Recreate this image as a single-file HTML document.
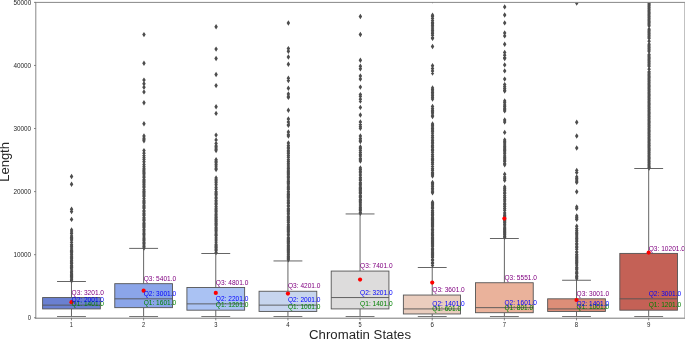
<!DOCTYPE html><html><head><meta charset="utf-8"><style>html,body{margin:0;padding:0;background:#fff;}svg{display:block;will-change:transform;}text{font-family:"Liberation Sans",sans-serif;}</style></head><body>
<svg width="685" height="339" viewBox="0 0 685 339">
<rect width="685" height="339" fill="#fff"/>
<defs><clipPath id="ax"><rect x="35.4" y="2.4" width="649.6" height="316"/></clipPath></defs>
<g clip-path="url(#ax)">
<path d="M71.57 173.80L73.32 176.50L71.57 179.20L69.82 176.50ZM71.57 181.50L73.32 184.20L71.57 186.90L69.82 184.20ZM71.57 206.60L73.32 209.30L71.57 212.00L69.82 209.30ZM71.57 208.90L73.32 211.60L71.57 214.30L69.82 211.60ZM71.57 216.70L73.32 219.40L71.57 222.10L69.82 219.40ZM71.57 227.30L73.32 230.00L71.57 232.70L69.82 230.00ZM71.57 229.20L73.32 231.90L71.57 234.60L69.82 231.90ZM71.57 230.91L73.32 233.61L71.57 236.31L69.82 233.61ZM71.57 233.19L73.32 235.89L71.57 238.59L69.82 235.89ZM71.57 234.71L73.32 237.41L71.57 240.11L69.82 237.41ZM71.57 236.04L73.32 238.74L71.57 241.44L69.82 238.74ZM71.57 237.37L73.32 240.07L71.57 242.77L69.82 240.07ZM71.57 239.46L73.32 242.16L71.57 244.86L69.82 242.16ZM71.57 242.12L73.32 244.82L71.57 247.52L69.82 244.82ZM71.57 243.45L73.32 246.15L71.57 248.85L69.82 246.15ZM71.57 245.35L73.32 248.05L71.57 250.75L69.82 248.05ZM71.57 247.30L73.32 250.00L71.57 252.70L69.82 250.00ZM71.57 247.30L73.32 250.00L71.57 252.70L69.82 250.00ZM71.57 248.30L73.32 251.00L71.57 253.70L69.82 251.00ZM71.57 249.10L73.32 251.80L71.57 254.50L69.82 251.80ZM71.57 250.00L73.32 252.70L71.57 255.40L69.82 252.70ZM71.57 251.60L73.32 254.30L71.57 257.00L69.82 254.30ZM71.57 253.20L73.32 255.90L71.57 258.60L69.82 255.90ZM71.57 254.10L73.32 256.80L71.57 259.50L69.82 256.80ZM71.57 255.10L73.32 257.80L71.57 260.50L69.82 257.80ZM71.57 256.00L73.32 258.70L71.57 261.40L69.82 258.70ZM71.57 257.60L73.32 260.30L71.57 263.00L69.82 260.30ZM71.57 258.40L73.32 261.10L71.57 263.80L69.82 261.10ZM71.57 259.30L73.32 262.00L71.57 264.70L69.82 262.00ZM71.57 260.30L73.32 263.00L71.57 265.70L69.82 263.00ZM71.57 261.10L73.32 263.80L71.57 266.50L69.82 263.80ZM71.57 262.70L73.32 265.40L71.57 268.10L69.82 265.40ZM71.57 263.50L73.32 266.20L71.57 268.90L69.82 266.20ZM71.57 264.50L73.32 267.20L71.57 269.90L69.82 267.20ZM71.57 265.30L73.32 268.00L71.57 270.70L69.82 268.00ZM71.57 266.30L73.32 269.00L71.57 271.70L69.82 269.00ZM71.57 267.40L73.32 270.10L71.57 272.80L69.82 270.10ZM71.57 269.00L73.32 271.70L71.57 274.40L69.82 271.70ZM71.57 270.00L73.32 272.70L71.57 275.40L69.82 272.70ZM71.57 270.90L73.32 273.60L71.57 276.30L69.82 273.60ZM71.57 272.00L73.32 274.70L71.57 277.40L69.82 274.70ZM71.57 273.00L73.32 275.70L71.57 278.40L69.82 275.70ZM71.57 273.90L73.32 276.60L71.57 279.30L69.82 276.60ZM71.57 274.90L73.32 277.60L71.57 280.30L69.82 277.60ZM71.57 276.20L73.32 278.90L71.57 281.60L69.82 278.90ZM71.57 277.10L73.32 279.80L71.57 282.50L69.82 279.80ZM71.57 278.00L73.32 280.70L71.57 283.40L69.82 280.70ZM143.97 31.90L145.72 34.60L143.97 37.30L142.22 34.60ZM143.97 60.50L145.72 63.20L143.97 65.90L142.22 63.20ZM143.97 77.40L145.72 80.10L143.97 82.80L142.22 80.10ZM143.97 81.00L145.72 83.70L143.97 86.40L142.22 83.70ZM143.97 84.50L145.72 87.20L143.97 89.90L142.22 87.20ZM143.97 89.20L145.72 91.90L143.97 94.60L142.22 91.90ZM143.97 100.10L145.72 102.80L143.97 105.50L142.22 102.80ZM143.97 121.10L145.72 123.80L143.97 126.50L142.22 123.80ZM143.97 133.30L145.72 136.00L143.97 138.70L142.22 136.00ZM143.97 135.54L145.72 138.24L143.97 140.94L142.22 138.24ZM143.97 136.98L145.72 139.68L143.97 142.38L142.22 139.68ZM143.97 138.10L145.72 140.80L143.97 143.50L142.22 140.80ZM143.97 147.90L145.72 150.60L143.97 153.30L142.22 150.60ZM143.97 150.56L145.72 153.26L143.97 155.96L142.22 153.26ZM143.97 152.84L145.72 155.54L143.97 158.24L142.22 155.54ZM143.97 154.93L145.72 157.63L143.97 160.33L142.22 157.63ZM143.97 156.83L145.72 159.53L143.97 162.23L142.22 159.53ZM143.97 159.11L145.72 161.81L143.97 164.51L142.22 161.81ZM143.97 161.77L145.72 164.47L143.97 167.17L142.22 164.47ZM143.97 164.05L145.72 166.75L143.97 169.45L142.22 166.75ZM143.97 165.95L145.72 168.65L143.97 171.35L142.22 168.65ZM143.97 167.30L145.72 170.00L143.97 172.70L142.22 170.00ZM143.97 167.30L145.72 170.00L143.97 172.70L142.22 170.00ZM143.97 168.30L145.72 171.00L143.97 173.70L142.22 171.00ZM143.97 169.30L145.72 172.00L143.97 174.70L142.22 172.00ZM143.97 170.20L145.72 172.90L143.97 175.60L142.22 172.90ZM143.97 171.30L145.72 174.00L143.97 176.70L142.22 174.00ZM143.97 173.40L145.72 176.10L143.97 178.80L142.22 176.10ZM143.97 174.70L145.72 177.40L143.97 180.10L142.22 177.40ZM143.97 176.80L145.72 179.50L143.97 182.20L142.22 179.50ZM143.97 177.90L145.72 180.60L143.97 183.30L142.22 180.60ZM143.97 178.80L145.72 181.50L143.97 184.20L142.22 181.50ZM143.97 179.70L145.72 182.40L143.97 185.10L142.22 182.40ZM143.97 181.30L145.72 184.00L143.97 186.70L142.22 184.00ZM143.97 182.30L145.72 185.00L143.97 187.70L142.22 185.00ZM143.97 183.60L145.72 186.30L143.97 189.00L142.22 186.30ZM143.97 184.60L145.72 187.30L143.97 190.00L142.22 187.30ZM143.97 186.70L145.72 189.40L143.97 192.10L142.22 189.40ZM143.97 188.30L145.72 191.00L143.97 193.70L142.22 191.00ZM143.97 189.10L145.72 191.80L143.97 194.50L142.22 191.80ZM143.97 190.00L145.72 192.70L143.97 195.40L142.22 192.70ZM143.97 191.30L145.72 194.00L143.97 196.70L142.22 194.00ZM143.97 192.60L145.72 195.30L143.97 198.00L142.22 195.30ZM143.97 193.90L145.72 196.60L143.97 199.30L142.22 196.60ZM143.97 196.00L145.72 198.70L143.97 201.40L142.22 198.70ZM143.97 198.10L145.72 200.80L143.97 203.50L142.22 200.80ZM143.97 199.00L145.72 201.70L143.97 204.40L142.22 201.70ZM143.97 199.90L145.72 202.60L143.97 205.30L142.22 202.60ZM143.97 201.00L145.72 203.70L143.97 206.40L142.22 203.70ZM143.97 203.10L145.72 205.80L143.97 208.50L142.22 205.80ZM143.97 204.00L145.72 206.70L143.97 209.40L142.22 206.70ZM143.97 204.80L145.72 207.50L143.97 210.20L142.22 207.50ZM143.97 205.90L145.72 208.60L143.97 211.30L142.22 208.60ZM143.97 208.00L145.72 210.70L143.97 213.40L142.22 210.70ZM143.97 209.10L145.72 211.80L143.97 214.50L142.22 211.80ZM143.97 210.70L145.72 213.40L143.97 216.10L142.22 213.40ZM143.97 212.00L145.72 214.70L143.97 217.40L142.22 214.70ZM143.97 212.80L145.72 215.50L143.97 218.20L142.22 215.50ZM143.97 214.90L145.72 217.60L143.97 220.30L142.22 217.60ZM143.97 216.20L145.72 218.90L143.97 221.60L142.22 218.90ZM143.97 217.20L145.72 219.90L143.97 222.60L142.22 219.90ZM143.97 218.10L145.72 220.80L143.97 223.50L142.22 220.80ZM143.97 220.20L145.72 222.90L143.97 225.60L142.22 222.90ZM143.97 221.00L145.72 223.70L143.97 226.40L142.22 223.70ZM143.97 222.00L145.72 224.70L143.97 227.40L142.22 224.70ZM143.97 223.10L145.72 225.80L143.97 228.50L142.22 225.80ZM143.97 224.10L145.72 226.80L143.97 229.50L142.22 226.80ZM143.97 225.10L145.72 227.80L143.97 230.50L142.22 227.80ZM143.97 226.70L145.72 229.40L143.97 232.10L142.22 229.40ZM143.97 228.30L145.72 231.00L143.97 233.70L142.22 231.00ZM143.97 230.40L145.72 233.10L143.97 235.80L142.22 233.10ZM143.97 231.30L145.72 234.00L143.97 236.70L142.22 234.00ZM143.97 232.30L145.72 235.00L143.97 237.70L142.22 235.00ZM143.97 234.40L145.72 237.10L143.97 239.80L142.22 237.10ZM143.97 236.00L145.72 238.70L143.97 241.40L142.22 238.70ZM143.97 237.10L145.72 239.80L143.97 242.50L142.22 239.80ZM143.97 238.10L145.72 240.80L143.97 243.50L142.22 240.80ZM143.97 239.70L145.72 242.40L143.97 245.10L142.22 242.40ZM143.97 240.80L145.72 243.50L143.97 246.20L142.22 243.50ZM143.97 242.40L145.72 245.10L143.97 247.80L142.22 245.10ZM143.97 243.70L145.72 246.40L143.97 249.10L142.22 246.40ZM143.97 245.30L145.72 248.00L143.97 250.70L142.22 248.00ZM216.08 24.00L217.83 26.70L216.08 29.40L214.33 26.70ZM216.08 46.40L217.83 49.10L216.08 51.80L214.33 49.10ZM216.08 55.80L217.83 58.50L216.08 61.20L214.33 58.50ZM216.08 71.80L217.83 74.50L216.08 77.20L214.33 74.50ZM216.08 82.90L217.83 85.60L216.08 88.30L214.33 85.60ZM216.08 104.10L217.83 106.80L216.08 109.50L214.33 106.80ZM216.08 110.70L217.83 113.40L216.08 116.10L214.33 113.40ZM216.08 132.40L217.83 135.10L216.08 137.80L214.33 135.10ZM216.08 137.20L217.83 139.90L216.08 142.60L214.33 139.90ZM216.08 140.80L217.83 143.50L216.08 146.20L214.33 143.50ZM216.08 142.42L217.83 145.12L216.08 147.82L214.33 145.12ZM216.08 143.68L217.83 146.38L216.08 149.08L214.33 146.38ZM216.08 145.30L217.83 148.00L216.08 150.70L214.33 148.00ZM216.08 146.92L217.83 149.62L216.08 152.32L214.33 149.62ZM216.08 147.80L217.83 150.50L216.08 153.20L214.33 150.50ZM216.08 157.00L217.83 159.70L216.08 162.40L214.33 159.70ZM216.08 158.44L217.83 161.14L216.08 163.84L214.33 161.14ZM216.08 159.56L217.83 162.26L216.08 164.96L214.33 162.26ZM216.08 161.48L217.83 164.18L216.08 166.88L214.33 164.18ZM216.08 163.24L217.83 165.94L216.08 168.64L214.33 165.94ZM216.08 165.48L217.83 168.18L216.08 170.88L214.33 168.18ZM216.08 166.92L217.83 169.62L216.08 172.32L214.33 169.62ZM216.08 175.30L217.83 178.00L216.08 180.70L214.33 178.00ZM216.08 177.10L217.83 179.80L216.08 182.50L214.33 179.80ZM216.08 178.36L217.83 181.06L216.08 183.76L214.33 181.06ZM216.08 179.98L217.83 182.68L216.08 185.38L214.33 182.68ZM216.08 182.14L217.83 184.84L216.08 187.54L214.33 184.84ZM216.08 184.66L217.83 187.36L216.08 190.06L214.33 187.36ZM216.08 186.46L217.83 189.16L216.08 191.86L214.33 189.16ZM216.08 188.98L217.83 191.68L216.08 194.38L214.33 191.68ZM216.08 189.30L217.83 192.00L216.08 194.70L214.33 192.00ZM216.08 190.60L217.83 193.30L216.08 196.00L214.33 193.30ZM216.08 191.60L217.83 194.30L216.08 197.00L214.33 194.30ZM216.08 192.40L217.83 195.10L216.08 197.80L214.33 195.10ZM216.08 194.50L217.83 197.20L216.08 199.90L214.33 197.20ZM216.08 196.10L217.83 198.80L216.08 201.50L214.33 198.80ZM216.08 197.70L217.83 200.40L216.08 203.10L214.33 200.40ZM216.08 199.30L217.83 202.00L216.08 204.70L214.33 202.00ZM216.08 200.90L217.83 203.60L216.08 206.30L214.33 203.60ZM216.08 201.80L217.83 204.50L216.08 207.20L214.33 204.50ZM216.08 203.90L217.83 206.60L216.08 209.30L214.33 206.60ZM216.08 205.50L217.83 208.20L216.08 210.90L214.33 208.20ZM216.08 206.30L217.83 209.00L216.08 211.70L214.33 209.00ZM216.08 207.30L217.83 210.00L216.08 212.70L214.33 210.00ZM216.08 208.20L217.83 210.90L216.08 213.60L214.33 210.90ZM216.08 209.20L217.83 211.90L216.08 214.60L214.33 211.90ZM216.08 211.30L217.83 214.00L216.08 216.70L214.33 214.00ZM216.08 212.30L217.83 215.00L216.08 217.70L214.33 215.00ZM216.08 213.20L217.83 215.90L216.08 218.60L214.33 215.90ZM216.08 214.50L217.83 217.20L216.08 219.90L214.33 217.20ZM216.08 215.30L217.83 218.00L216.08 220.70L214.33 218.00ZM216.08 216.20L217.83 218.90L216.08 221.60L214.33 218.90ZM216.08 217.00L217.83 219.70L216.08 222.40L214.33 219.70ZM216.08 218.00L217.83 220.70L216.08 223.40L214.33 220.70ZM216.08 218.90L217.83 221.60L216.08 224.30L214.33 221.60ZM216.08 220.20L217.83 222.90L216.08 225.60L214.33 222.90ZM216.08 221.00L217.83 223.70L216.08 226.40L214.33 223.70ZM216.08 221.90L217.83 224.60L216.08 227.30L214.33 224.60ZM216.08 222.90L217.83 225.60L216.08 228.30L214.33 225.60ZM216.08 224.50L217.83 227.20L216.08 229.90L214.33 227.20ZM216.08 225.50L217.83 228.20L216.08 230.90L214.33 228.20ZM216.08 226.60L217.83 229.30L216.08 232.00L214.33 229.30ZM216.08 227.90L217.83 230.60L216.08 233.30L214.33 230.60ZM216.08 229.20L217.83 231.90L216.08 234.60L214.33 231.90ZM216.08 231.30L217.83 234.00L216.08 236.70L214.33 234.00ZM216.08 232.20L217.83 234.90L216.08 237.60L214.33 234.90ZM216.08 233.10L217.83 235.80L216.08 238.50L214.33 235.80ZM216.08 235.20L217.83 237.90L216.08 240.60L214.33 237.90ZM216.08 237.30L217.83 240.00L216.08 242.70L214.33 240.00ZM216.08 239.40L217.83 242.10L216.08 244.80L214.33 242.10ZM216.08 241.50L217.83 244.20L216.08 246.90L214.33 244.20ZM216.08 242.60L217.83 245.30L216.08 248.00L214.33 245.30ZM216.08 243.50L217.83 246.20L216.08 248.90L214.33 246.20ZM216.08 244.50L217.83 247.20L216.08 249.90L214.33 247.20ZM216.08 245.40L217.83 248.10L216.08 250.80L214.33 248.10ZM216.08 246.70L217.83 249.40L216.08 252.10L214.33 249.40ZM216.08 247.80L217.83 250.50L216.08 253.20L214.33 250.50ZM216.08 249.90L217.83 252.60L216.08 255.30L214.33 252.60ZM288.38 20.30L290.12 23.00L288.38 25.70L286.62 23.00ZM288.38 45.90L290.12 48.60L288.38 51.30L286.62 48.60ZM288.38 48.60L290.12 51.30L288.38 54.00L286.62 51.30ZM288.38 54.30L290.12 57.00L288.38 59.70L286.62 57.00ZM288.38 61.50L290.12 64.20L288.38 66.90L286.62 64.20ZM288.38 75.50L290.12 78.20L288.38 80.90L286.62 78.20ZM288.38 77.80L290.12 80.50L288.38 83.20L286.62 80.50ZM288.38 85.50L290.12 88.20L288.38 90.90L286.62 88.20ZM288.38 107.60L290.12 110.30L288.38 113.00L286.62 110.30ZM288.38 91.20L290.12 93.90L288.38 96.60L286.62 93.90ZM288.38 93.65L290.12 96.35L288.38 99.05L286.62 96.35ZM288.38 94.70L290.12 97.40L288.38 100.10L286.62 97.40ZM288.38 116.30L290.12 119.00L288.38 121.70L286.62 119.00ZM288.38 119.24L290.12 121.94L288.38 124.64L286.62 121.94ZM288.38 121.34L290.12 124.04L288.38 126.74L286.62 124.04ZM288.38 122.60L290.12 125.30L288.38 128.00L286.62 125.30ZM288.38 129.30L290.12 132.00L288.38 134.70L286.62 132.00ZM288.38 132.10L290.12 134.80L288.38 137.50L286.62 134.80ZM288.38 133.30L290.12 136.00L288.38 138.70L286.62 136.00ZM288.38 140.30L290.12 143.00L288.38 145.70L286.62 143.00ZM288.38 142.82L290.12 145.52L288.38 148.22L286.62 145.52ZM288.38 144.62L290.12 147.32L288.38 150.02L286.62 147.32ZM288.38 146.06L290.12 148.76L288.38 151.46L286.62 148.76ZM288.38 148.04L290.12 150.74L288.38 153.44L286.62 150.74ZM288.38 149.30L290.12 152.00L288.38 154.70L286.62 152.00ZM288.38 150.74L290.12 153.44L288.38 156.14L286.62 153.44ZM288.38 152.72L290.12 155.42L288.38 158.12L286.62 155.42ZM288.38 154.52L290.12 157.22L288.38 159.92L286.62 157.22ZM288.38 157.04L290.12 159.74L288.38 162.44L286.62 159.74ZM288.38 158.84L290.12 161.54L288.38 164.24L286.62 161.54ZM288.38 160.46L290.12 163.16L288.38 165.86L286.62 163.16ZM288.38 162.26L290.12 164.96L288.38 167.66L286.62 164.96ZM288.38 164.24L290.12 166.94L288.38 169.64L286.62 166.94ZM288.38 165.86L290.12 168.56L288.38 171.26L286.62 168.56ZM288.38 167.30L290.12 170.00L288.38 172.70L286.62 170.00ZM288.38 167.30L290.12 170.00L288.38 172.70L286.62 170.00ZM288.38 168.60L290.12 171.30L288.38 174.00L286.62 171.30ZM288.38 169.60L290.12 172.30L288.38 175.00L286.62 172.30ZM288.38 170.60L290.12 173.30L288.38 176.00L286.62 173.30ZM288.38 171.60L290.12 174.30L288.38 177.00L286.62 174.30ZM288.38 173.20L290.12 175.90L288.38 178.60L286.62 175.90ZM288.38 174.20L290.12 176.90L288.38 179.60L286.62 176.90ZM288.38 175.20L290.12 177.90L288.38 180.60L286.62 177.90ZM288.38 177.30L290.12 180.00L288.38 182.70L286.62 180.00ZM288.38 178.60L290.12 181.30L288.38 184.00L286.62 181.30ZM288.38 179.40L290.12 182.10L288.38 184.80L286.62 182.10ZM288.38 180.20L290.12 182.90L288.38 185.60L286.62 182.90ZM288.38 181.30L290.12 184.00L288.38 186.70L286.62 184.00ZM288.38 183.40L290.12 186.10L288.38 188.80L286.62 186.10ZM288.38 184.50L290.12 187.20L288.38 189.90L286.62 187.20ZM288.38 185.50L290.12 188.20L288.38 190.90L286.62 188.20ZM288.38 186.80L290.12 189.50L288.38 192.20L286.62 189.50ZM288.38 188.90L290.12 191.60L288.38 194.30L286.62 191.60ZM288.38 190.20L290.12 192.90L288.38 195.60L286.62 192.90ZM288.38 191.50L290.12 194.20L288.38 196.90L286.62 194.20ZM288.38 192.40L290.12 195.10L288.38 197.80L286.62 195.10ZM288.38 193.40L290.12 196.10L288.38 198.80L286.62 196.10ZM288.38 194.30L290.12 197.00L288.38 199.70L286.62 197.00ZM288.38 195.30L290.12 198.00L288.38 200.70L286.62 198.00ZM288.38 197.40L290.12 200.10L288.38 202.80L286.62 200.10ZM288.38 198.40L290.12 201.10L288.38 203.80L286.62 201.10ZM288.38 199.70L290.12 202.40L288.38 205.10L286.62 202.40ZM288.38 200.70L290.12 203.40L288.38 206.10L286.62 203.40ZM288.38 202.80L290.12 205.50L288.38 208.20L286.62 205.50ZM288.38 203.60L290.12 206.30L288.38 209.00L286.62 206.30ZM288.38 205.70L290.12 208.40L288.38 211.10L286.62 208.40ZM288.38 207.00L290.12 209.70L288.38 212.40L286.62 209.70ZM288.38 207.90L290.12 210.60L288.38 213.30L286.62 210.60ZM288.38 208.80L290.12 211.50L288.38 214.20L286.62 211.50ZM288.38 210.40L290.12 213.10L288.38 215.80L286.62 213.10ZM288.38 211.40L290.12 214.10L288.38 216.80L286.62 214.10ZM288.38 213.50L290.12 216.20L288.38 218.90L286.62 216.20ZM288.38 214.50L290.12 217.20L288.38 219.90L286.62 217.20ZM288.38 216.10L290.12 218.80L288.38 221.50L286.62 218.80ZM288.38 217.40L290.12 220.10L288.38 222.80L286.62 220.10ZM288.38 218.30L290.12 221.00L288.38 223.70L286.62 221.00ZM288.38 219.90L290.12 222.60L288.38 225.30L286.62 222.60ZM288.38 222.00L290.12 224.70L288.38 227.40L286.62 224.70ZM288.38 223.60L290.12 226.30L288.38 229.00L286.62 226.30ZM288.38 224.50L290.12 227.20L288.38 229.90L286.62 227.20ZM288.38 225.50L290.12 228.20L288.38 230.90L286.62 228.20ZM288.38 226.50L290.12 229.20L288.38 231.90L286.62 229.20ZM288.38 227.50L290.12 230.20L288.38 232.90L286.62 230.20ZM288.38 228.30L290.12 231.00L288.38 233.70L286.62 231.00ZM288.38 229.30L290.12 232.00L288.38 234.70L286.62 232.00ZM288.38 231.40L290.12 234.10L288.38 236.80L286.62 234.10ZM288.38 232.40L290.12 235.10L288.38 237.80L286.62 235.10ZM288.38 234.50L290.12 237.20L288.38 239.90L286.62 237.20ZM288.38 235.80L290.12 238.50L288.38 241.20L286.62 238.50ZM288.38 236.80L290.12 239.50L288.38 242.20L286.62 239.50ZM288.38 237.80L290.12 240.50L288.38 243.20L286.62 240.50ZM288.38 238.60L290.12 241.30L288.38 244.00L286.62 241.30ZM288.38 239.40L290.12 242.10L288.38 244.80L286.62 242.10ZM288.38 240.30L290.12 243.00L288.38 245.70L286.62 243.00ZM288.38 241.30L290.12 244.00L288.38 246.70L286.62 244.00ZM288.38 242.90L290.12 245.60L288.38 248.30L286.62 245.60ZM288.38 243.90L290.12 246.60L288.38 249.30L286.62 246.60ZM288.38 244.90L290.12 247.60L288.38 250.30L286.62 247.60ZM288.38 245.70L290.12 248.40L288.38 251.10L286.62 248.40ZM288.38 246.80L290.12 249.50L288.38 252.20L286.62 249.50ZM288.38 247.80L290.12 250.50L288.38 253.20L286.62 250.50ZM288.38 248.90L290.12 251.60L288.38 254.30L286.62 251.60ZM288.38 249.90L290.12 252.60L288.38 255.30L286.62 252.60ZM288.38 251.20L290.12 253.90L288.38 256.60L286.62 253.90ZM288.38 252.30L290.12 255.00L288.38 257.70L286.62 255.00ZM288.38 253.90L290.12 256.60L288.38 259.30L286.62 256.60ZM288.38 254.90L290.12 257.60L288.38 260.30L286.62 257.60ZM288.38 255.70L290.12 258.40L288.38 261.10L286.62 258.40ZM288.38 257.00L290.12 259.70L288.38 262.40L286.62 259.70ZM360.38 13.80L362.12 16.50L360.38 19.20L358.62 16.50ZM360.38 31.80L362.12 34.50L360.38 37.20L358.62 34.50ZM360.38 57.50L362.12 60.20L360.38 62.90L358.62 60.20ZM360.38 63.60L362.12 66.30L360.38 69.00L358.62 66.30ZM360.38 66.00L362.12 68.70L360.38 71.40L358.62 68.70ZM360.38 73.30L362.12 76.00L360.38 78.70L358.62 76.00ZM360.38 76.30L362.12 79.00L360.38 81.70L358.62 79.00ZM360.38 84.40L362.12 87.10L360.38 89.80L358.62 87.10ZM360.38 104.70L362.12 107.40L360.38 110.10L358.62 107.40ZM360.38 112.30L362.12 115.00L360.38 117.70L358.62 115.00ZM360.38 91.90L362.12 94.60L360.38 97.30L358.62 94.60ZM360.38 93.58L362.12 96.28L360.38 98.98L358.62 96.28ZM360.38 96.52L362.12 99.22L360.38 101.92L358.62 99.22ZM360.38 98.30L362.12 101.00L360.38 103.70L358.62 101.00ZM360.38 119.30L362.12 122.00L360.38 124.70L358.62 122.00ZM360.38 121.82L362.12 124.52L360.38 127.22L358.62 124.52ZM360.38 124.13L362.12 126.83L360.38 129.53L358.62 126.83ZM360.38 125.60L362.12 128.30L360.38 131.00L358.62 128.30ZM360.38 133.30L362.12 136.00L360.38 138.70L358.62 136.00ZM360.38 135.82L362.12 138.52L360.38 141.22L358.62 138.52ZM360.38 137.44L362.12 140.14L360.38 142.84L358.62 140.14ZM360.38 138.80L362.12 141.50L360.38 144.20L358.62 141.50ZM360.38 144.30L362.12 147.00L360.38 149.70L358.62 147.00ZM360.38 145.56L362.12 148.26L360.38 150.96L358.62 148.26ZM360.38 147.54L362.12 150.24L360.38 152.94L358.62 150.24ZM360.38 149.70L362.12 152.40L360.38 155.10L358.62 152.40ZM360.38 151.68L362.12 154.38L360.38 157.08L358.62 154.38ZM360.38 153.30L362.12 156.00L360.38 158.70L358.62 156.00ZM360.38 155.82L362.12 158.52L360.38 161.22L358.62 158.52ZM360.38 157.08L362.12 159.78L360.38 162.48L358.62 159.78ZM360.38 158.30L362.12 161.00L360.38 163.70L358.62 161.00ZM360.38 165.30L362.12 168.00L360.38 170.70L358.62 168.00ZM360.38 166.92L362.12 169.62L360.38 172.32L358.62 169.62ZM360.38 168.54L362.12 171.24L360.38 173.94L358.62 171.24ZM360.38 170.16L362.12 172.86L360.38 175.56L358.62 172.86ZM360.38 172.32L362.12 175.02L360.38 177.72L358.62 175.02ZM360.38 174.84L362.12 177.54L360.38 180.24L358.62 177.54ZM360.38 176.28L362.12 178.98L360.38 181.68L358.62 178.98ZM360.38 177.54L362.12 180.24L360.38 182.94L358.62 180.24ZM360.38 180.06L362.12 182.76L360.38 185.46L358.62 182.76ZM360.38 181.32L362.12 184.02L360.38 186.72L358.62 184.02ZM360.38 182.30L362.12 185.00L360.38 187.70L358.62 185.00ZM360.38 182.30L362.12 185.00L360.38 187.70L358.62 185.00ZM360.38 184.40L362.12 187.10L360.38 189.80L358.62 187.10ZM360.38 185.30L362.12 188.00L360.38 190.70L358.62 188.00ZM360.38 186.10L362.12 188.80L360.38 191.50L358.62 188.80ZM360.38 187.10L362.12 189.80L360.38 192.50L358.62 189.80ZM360.38 188.10L362.12 190.80L360.38 193.50L358.62 190.80ZM360.38 189.20L362.12 191.90L360.38 194.60L358.62 191.90ZM360.38 190.00L362.12 192.70L360.38 195.40L358.62 192.70ZM360.38 190.90L362.12 193.60L360.38 196.30L358.62 193.60ZM360.38 193.00L362.12 195.70L360.38 198.40L358.62 195.70ZM360.38 193.80L362.12 196.50L360.38 199.20L358.62 196.50ZM360.38 194.70L362.12 197.40L360.38 200.10L358.62 197.40ZM360.38 196.80L362.12 199.50L360.38 202.20L358.62 199.50ZM360.38 198.10L362.12 200.80L360.38 203.50L358.62 200.80ZM360.38 199.10L362.12 201.80L360.38 204.50L358.62 201.80ZM360.38 200.20L362.12 202.90L360.38 205.60L358.62 202.90ZM360.38 202.30L362.12 205.00L360.38 207.70L358.62 205.00ZM360.38 204.40L362.12 207.10L360.38 209.80L358.62 207.10ZM360.38 205.40L362.12 208.10L360.38 210.80L358.62 208.10ZM360.38 206.50L362.12 209.20L360.38 211.90L358.62 209.20ZM360.38 207.50L362.12 210.20L360.38 212.90L358.62 210.20ZM360.38 209.60L362.12 212.30L360.38 215.00L358.62 212.30ZM360.38 210.60L362.12 213.30L360.38 216.00L358.62 213.30ZM432.53 -1.90L434.28 0.80L432.53 3.50L430.78 0.80ZM432.53 43.80L434.28 46.50L432.53 49.20L430.78 46.50ZM432.53 63.00L434.28 65.70L432.53 68.40L430.78 65.70ZM432.53 65.80L434.28 68.50L432.53 71.20L430.78 68.50ZM432.53 68.30L434.28 71.00L432.53 73.70L430.78 71.00ZM432.53 70.40L434.28 73.10L432.53 75.80L430.78 73.10ZM432.53 12.50L434.28 15.20L432.53 17.90L430.78 15.20ZM432.53 13.76L434.28 16.46L432.53 19.16L430.78 16.46ZM432.53 15.92L434.28 18.62L432.53 21.32L430.78 18.62ZM432.53 18.08L434.28 20.78L432.53 23.48L430.78 20.78ZM432.53 19.88L434.28 22.58L432.53 25.28L430.78 22.58ZM432.53 21.14L434.28 23.84L432.53 26.54L430.78 23.84ZM432.53 22.58L434.28 25.28L432.53 27.98L430.78 25.28ZM432.53 24.20L434.28 26.90L432.53 29.60L430.78 26.90ZM432.53 26.36L434.28 29.06L432.53 31.76L430.78 29.06ZM432.53 27.62L434.28 30.32L432.53 33.02L430.78 30.32ZM432.53 29.24L434.28 31.94L432.53 34.64L430.78 31.94ZM432.53 30.68L434.28 33.38L432.53 36.08L430.78 33.38ZM432.53 32.48L434.28 35.18L432.53 37.88L430.78 35.18ZM432.53 34.46L434.28 37.16L432.53 39.86L430.78 37.16ZM432.53 35.72L434.28 38.42L432.53 41.12L430.78 38.42ZM432.53 85.30L434.28 88.00L432.53 90.70L430.78 88.00ZM432.53 86.92L434.28 89.62L432.53 92.32L430.78 89.62ZM432.53 88.36L434.28 91.06L432.53 93.76L430.78 91.06ZM432.53 89.80L434.28 92.50L432.53 95.20L430.78 92.50ZM432.53 91.24L434.28 93.94L432.53 96.64L430.78 93.94ZM432.53 93.04L434.28 95.74L432.53 98.44L430.78 95.74ZM432.53 94.66L434.28 97.36L432.53 100.06L430.78 97.36ZM432.53 96.30L434.28 99.00L432.53 101.70L430.78 99.00ZM432.53 103.80L434.28 106.50L432.53 109.20L430.78 106.50ZM432.53 105.96L434.28 108.66L432.53 111.36L430.78 108.66ZM432.53 107.58L434.28 110.28L432.53 112.98L430.78 110.28ZM432.53 109.02L434.28 111.72L432.53 114.42L430.78 111.72ZM432.53 110.28L434.28 112.98L432.53 115.68L430.78 112.98ZM432.53 112.44L434.28 115.14L432.53 117.84L430.78 115.14ZM432.53 113.90L434.28 116.60L432.53 119.30L430.78 116.60ZM432.53 121.30L434.28 124.00L432.53 126.70L430.78 124.00ZM432.53 122.58L434.28 125.28L432.53 127.98L430.78 125.28ZM432.53 124.34L434.28 127.04L432.53 129.74L430.78 127.04ZM432.53 125.78L434.28 128.48L432.53 131.18L430.78 128.48ZM432.53 127.22L434.28 129.92L432.53 132.62L430.78 129.92ZM432.53 128.50L434.28 131.20L432.53 133.90L430.78 131.20ZM432.53 130.42L434.28 133.12L432.53 135.82L430.78 133.12ZM432.53 132.66L434.28 135.36L432.53 138.06L430.78 135.36ZM432.53 134.58L434.28 137.28L432.53 139.98L430.78 137.28ZM432.53 136.18L434.28 138.88L432.53 141.58L430.78 138.88ZM432.53 138.10L434.28 140.80L432.53 143.50L430.78 140.80ZM432.53 139.54L434.28 142.24L432.53 144.94L430.78 142.24ZM432.53 141.14L434.28 143.84L432.53 146.54L430.78 143.84ZM432.53 142.74L434.28 145.44L432.53 148.14L430.78 145.44ZM432.53 143.86L434.28 146.56L432.53 149.26L430.78 146.56ZM432.53 145.14L434.28 147.84L432.53 150.54L430.78 147.84ZM432.53 146.74L434.28 149.44L432.53 152.14L430.78 149.44ZM432.53 147.86L434.28 150.56L432.53 153.26L430.78 150.56ZM432.53 149.46L434.28 152.16L432.53 154.86L430.78 152.16ZM432.53 151.70L434.28 154.40L432.53 157.10L430.78 154.40ZM432.53 153.62L434.28 156.32L432.53 159.02L430.78 156.32ZM432.53 155.54L434.28 158.24L432.53 160.94L430.78 158.24ZM432.53 156.82L434.28 159.52L432.53 162.22L430.78 159.52ZM432.53 157.94L434.28 160.64L432.53 163.34L430.78 160.64ZM432.53 159.86L434.28 162.56L432.53 165.26L430.78 162.56ZM432.53 161.46L434.28 164.16L432.53 166.86L430.78 164.16ZM432.53 163.70L434.28 166.40L432.53 169.10L430.78 166.40ZM432.53 165.94L434.28 168.64L432.53 171.34L430.78 168.64ZM432.53 167.54L434.28 170.24L432.53 172.94L430.78 170.24ZM432.53 169.78L434.28 172.48L432.53 175.18L430.78 172.48ZM432.53 170.90L434.28 173.60L432.53 176.30L430.78 173.60ZM432.53 172.02L434.28 174.72L432.53 177.42L430.78 174.72ZM432.53 173.30L434.28 176.00L432.53 178.70L430.78 176.00ZM432.53 179.80L434.28 182.50L432.53 185.20L430.78 182.50ZM432.53 181.06L434.28 183.76L432.53 186.46L430.78 183.76ZM432.53 182.32L434.28 185.02L432.53 187.72L430.78 185.02ZM432.53 184.12L434.28 186.82L432.53 189.52L430.78 186.82ZM432.53 185.92L434.28 188.62L432.53 191.32L430.78 188.62ZM432.53 187.18L434.28 189.88L432.53 192.58L430.78 189.88ZM432.53 189.16L434.28 191.86L432.53 194.56L430.78 191.86ZM432.53 190.00L434.28 192.70L432.53 195.40L430.78 192.70ZM432.53 199.50L434.28 202.20L432.53 204.90L430.78 202.20ZM432.53 200.50L434.28 203.20L432.53 205.90L430.78 203.20ZM432.53 202.10L434.28 204.80L432.53 207.50L430.78 204.80ZM432.53 203.20L434.28 205.90L432.53 208.60L430.78 205.90ZM432.53 204.80L434.28 207.50L432.53 210.20L430.78 207.50ZM432.53 205.80L434.28 208.50L432.53 211.20L430.78 208.50ZM432.53 207.90L434.28 210.60L432.53 213.30L430.78 210.60ZM432.53 209.20L434.28 211.90L432.53 214.60L430.78 211.90ZM432.53 210.10L434.28 212.80L432.53 215.50L430.78 212.80ZM432.53 211.20L434.28 213.90L432.53 216.60L430.78 213.90ZM432.53 212.00L434.28 214.70L432.53 217.40L430.78 214.70ZM432.53 213.00L434.28 215.70L432.53 218.40L430.78 215.70ZM432.53 214.60L434.28 217.30L432.53 220.00L430.78 217.30ZM432.53 215.50L434.28 218.20L432.53 220.90L430.78 218.20ZM432.53 216.60L434.28 219.30L432.53 222.00L430.78 219.30ZM432.53 217.40L434.28 220.10L432.53 222.80L430.78 220.10ZM432.53 218.30L434.28 221.00L432.53 223.70L430.78 221.00ZM432.53 219.40L434.28 222.10L432.53 224.80L430.78 222.10ZM432.53 220.30L434.28 223.00L432.53 225.70L430.78 223.00ZM432.53 221.30L434.28 224.00L432.53 226.70L430.78 224.00ZM432.53 222.20L434.28 224.90L432.53 227.60L430.78 224.90ZM432.53 223.30L434.28 226.00L432.53 228.70L430.78 226.00ZM432.53 224.20L434.28 226.90L432.53 229.60L430.78 226.90ZM432.53 226.30L434.28 229.00L432.53 231.70L430.78 229.00ZM432.53 227.10L434.28 229.80L432.53 232.50L430.78 229.80ZM432.53 228.40L434.28 231.10L432.53 233.80L430.78 231.10ZM432.53 230.00L434.28 232.70L432.53 235.40L430.78 232.70ZM432.53 231.10L434.28 233.80L432.53 236.50L430.78 233.80ZM432.53 232.10L434.28 234.80L432.53 237.50L430.78 234.80ZM432.53 232.90L434.28 235.60L432.53 238.30L430.78 235.60ZM432.53 233.90L434.28 236.60L432.53 239.30L430.78 236.60ZM432.53 234.80L434.28 237.50L432.53 240.20L430.78 237.50ZM432.53 235.80L434.28 238.50L432.53 241.20L430.78 238.50ZM432.53 236.90L434.28 239.60L432.53 242.30L430.78 239.60ZM432.53 237.70L434.28 240.40L432.53 243.10L430.78 240.40ZM432.53 238.70L434.28 241.40L432.53 244.10L430.78 241.40ZM432.53 239.70L434.28 242.40L432.53 245.10L430.78 242.40ZM432.53 240.80L434.28 243.50L432.53 246.20L430.78 243.50ZM432.53 241.90L434.28 244.60L432.53 247.30L430.78 244.60ZM432.53 242.90L434.28 245.60L432.53 248.30L430.78 245.60ZM432.53 244.00L434.28 246.70L432.53 249.40L430.78 246.70ZM432.53 246.10L434.28 248.80L432.53 251.50L430.78 248.80ZM432.53 247.10L434.28 249.80L432.53 252.50L430.78 249.80ZM432.53 248.20L434.28 250.90L432.53 253.60L430.78 250.90ZM432.53 249.50L434.28 252.20L432.53 254.90L430.78 252.20ZM432.53 250.30L434.28 253.00L432.53 255.70L430.78 253.00ZM432.53 251.40L434.28 254.10L432.53 256.80L430.78 254.10ZM432.53 252.20L434.28 254.90L432.53 257.60L430.78 254.90ZM432.53 253.00L434.28 255.70L432.53 258.40L430.78 255.70ZM432.53 253.80L434.28 256.50L432.53 259.20L430.78 256.50ZM432.53 254.80L434.28 257.50L432.53 260.20L430.78 257.50ZM432.53 256.90L434.28 259.60L432.53 262.30L430.78 259.60ZM432.53 257.90L434.28 260.60L432.53 263.30L430.78 260.60ZM432.53 260.00L434.28 262.70L432.53 265.40L430.78 262.70ZM432.53 260.90L434.28 263.60L432.53 266.30L430.78 263.60ZM432.53 262.50L434.28 265.20L432.53 267.90L430.78 265.20ZM504.68 4.20L506.43 6.90L504.68 9.60L502.93 6.90ZM504.68 12.30L506.43 15.00L504.68 17.70L502.93 15.00ZM504.68 20.20L506.43 22.90L504.68 25.60L502.93 22.90ZM504.68 30.20L506.43 32.90L504.68 35.60L502.93 32.90ZM504.68 33.20L506.43 35.90L504.68 38.60L502.93 35.90ZM504.68 41.50L506.43 44.20L504.68 46.90L502.93 44.20ZM504.68 62.20L506.43 64.90L504.68 67.60L502.93 64.90ZM504.68 68.20L506.43 70.90L504.68 73.60L502.93 70.90ZM504.68 76.40L506.43 79.10L504.68 81.80L502.93 79.10ZM504.68 117.30L506.43 120.00L504.68 122.70L502.93 120.00ZM504.68 119.30L506.43 122.00L504.68 124.70L502.93 122.00ZM504.68 129.70L506.43 132.40L504.68 135.10L502.93 132.40ZM504.68 49.70L506.43 52.40L504.68 55.10L502.93 52.40ZM504.68 52.50L506.43 55.20L504.68 57.90L502.93 55.20ZM504.68 54.70L506.43 57.40L504.68 60.10L502.93 57.40ZM504.68 55.80L506.43 58.50L504.68 61.20L502.93 58.50ZM504.68 81.90L506.43 84.60L504.68 87.30L502.93 84.60ZM504.68 84.00L506.43 86.70L504.68 89.40L502.93 86.70ZM504.68 85.68L506.43 88.38L504.68 91.08L502.93 88.38ZM504.68 87.57L506.43 90.27L504.68 92.97L502.93 90.27ZM504.68 88.30L506.43 91.00L504.68 93.70L502.93 91.00ZM504.68 98.30L506.43 101.00L504.68 103.70L502.93 101.00ZM504.68 100.10L506.43 102.80L504.68 105.50L502.93 102.80ZM504.68 102.30L506.43 105.00L504.68 107.70L502.93 105.00ZM504.68 103.90L506.43 106.60L504.68 109.30L502.93 106.60ZM504.68 105.50L506.43 108.20L504.68 110.90L502.93 108.20ZM504.68 107.10L506.43 109.80L504.68 112.50L502.93 109.80ZM504.68 108.20L506.43 110.90L504.68 113.60L502.93 110.90ZM504.68 137.30L506.43 140.00L504.68 142.70L502.93 140.00ZM504.68 139.10L506.43 141.80L504.68 144.50L502.93 141.80ZM504.68 140.36L506.43 143.06L504.68 145.76L502.93 143.06ZM504.68 142.34L506.43 145.04L504.68 147.74L502.93 145.04ZM504.68 143.96L506.43 146.66L504.68 149.36L502.93 146.66ZM504.68 145.22L506.43 147.92L504.68 150.62L502.93 147.92ZM504.68 146.48L506.43 149.18L504.68 151.88L502.93 149.18ZM504.68 147.92L506.43 150.62L504.68 153.32L502.93 150.62ZM504.68 149.36L506.43 152.06L504.68 154.76L502.93 152.06ZM504.68 151.16L506.43 153.86L504.68 156.56L502.93 153.86ZM504.68 153.32L506.43 156.02L504.68 158.72L502.93 156.02ZM504.68 154.94L506.43 157.64L504.68 160.34L502.93 157.64ZM504.68 156.20L506.43 158.90L504.68 161.60L502.93 158.90ZM504.68 157.46L506.43 160.16L504.68 162.86L502.93 160.16ZM504.68 158.90L506.43 161.60L504.68 164.30L502.93 161.60ZM504.68 160.88L506.43 163.58L504.68 166.28L502.93 163.58ZM504.68 162.00L506.43 164.70L504.68 167.40L502.93 164.70ZM504.68 171.60L506.43 174.30L504.68 177.00L502.93 174.30ZM504.68 174.40L506.43 177.10L504.68 179.80L502.93 177.10ZM504.68 176.00L506.43 178.70L504.68 181.40L502.93 178.70ZM504.68 177.60L506.43 180.30L504.68 183.00L502.93 180.30ZM504.68 184.30L506.43 187.00L504.68 189.70L502.93 187.00ZM504.68 186.01L506.43 188.71L504.68 191.41L502.93 188.71ZM504.68 187.53L506.43 190.23L504.68 192.93L502.93 190.23ZM504.68 189.43L506.43 192.13L504.68 194.83L502.93 192.13ZM504.68 190.76L506.43 193.46L504.68 196.16L502.93 193.46ZM504.68 193.04L506.43 195.74L504.68 198.44L502.93 195.74ZM504.68 194.75L506.43 197.45L504.68 200.15L502.93 197.45ZM504.68 196.46L506.43 199.16L504.68 201.86L502.93 199.16ZM504.68 198.36L506.43 201.06L504.68 203.76L502.93 201.06ZM504.68 200.64L506.43 203.34L504.68 206.04L502.93 203.34ZM504.68 201.97L506.43 204.67L504.68 207.37L502.93 204.67ZM504.68 203.87L506.43 206.57L504.68 209.27L502.93 206.57ZM504.68 205.77L506.43 208.47L504.68 211.17L502.93 208.47ZM504.68 207.67L506.43 210.37L504.68 213.07L502.93 210.37ZM504.68 210.33L506.43 213.03L504.68 215.73L502.93 213.03ZM504.68 212.23L506.43 214.93L504.68 217.63L502.93 214.93ZM504.68 213.30L506.43 216.00L504.68 218.70L502.93 216.00ZM504.68 213.30L506.43 216.00L504.68 218.70L502.93 216.00ZM504.68 214.40L506.43 217.10L504.68 219.80L502.93 217.10ZM504.68 215.40L506.43 218.10L504.68 220.80L502.93 218.10ZM504.68 216.70L506.43 219.40L504.68 222.10L502.93 219.40ZM504.68 217.70L506.43 220.40L504.68 223.10L502.93 220.40ZM504.68 218.50L506.43 221.20L504.68 223.90L502.93 221.20ZM504.68 219.80L506.43 222.50L504.68 225.20L502.93 222.50ZM504.68 221.40L506.43 224.10L504.68 226.80L502.93 224.10ZM504.68 222.30L506.43 225.00L504.68 227.70L502.93 225.00ZM504.68 224.40L506.43 227.10L504.68 229.80L502.93 227.10ZM504.68 225.50L506.43 228.20L504.68 230.90L502.93 228.20ZM504.68 226.50L506.43 229.20L504.68 231.90L502.93 229.20ZM504.68 227.50L506.43 230.20L504.68 232.90L502.93 230.20ZM504.68 228.30L506.43 231.00L504.68 233.70L502.93 231.00ZM504.68 229.20L506.43 231.90L504.68 234.60L502.93 231.90ZM504.68 230.30L506.43 233.00L504.68 235.70L502.93 233.00ZM504.68 231.20L506.43 233.90L504.68 236.60L502.93 233.90ZM504.68 232.20L506.43 234.90L504.68 237.60L502.93 234.90ZM504.68 233.80L506.43 236.50L504.68 239.20L502.93 236.50ZM504.68 234.60L506.43 237.30L504.68 240.00L502.93 237.30ZM576.73 0.30L578.48 3.00L576.73 5.70L574.98 3.00ZM576.73 119.50L578.48 122.20L576.73 124.90L574.98 122.20ZM576.73 133.30L578.48 136.00L576.73 138.70L574.98 136.00ZM576.73 145.30L578.48 148.00L576.73 150.70L574.98 148.00ZM576.73 189.00L578.48 191.70L576.73 194.40L574.98 191.70ZM576.73 167.80L578.48 170.50L576.73 173.20L574.98 170.50ZM576.73 169.20L578.48 171.90L576.73 174.60L574.98 171.90ZM576.73 169.80L578.48 172.50L576.73 175.20L574.98 172.50ZM576.73 174.30L578.48 177.00L576.73 179.70L574.98 177.00ZM576.73 175.74L578.48 178.44L576.73 181.14L574.98 178.44ZM576.73 177.36L578.48 180.06L576.73 182.76L574.98 180.06ZM576.73 178.62L578.48 181.32L576.73 184.02L574.98 181.32ZM576.73 179.70L578.48 182.40L576.73 185.10L574.98 182.40ZM576.73 204.30L578.48 207.00L576.73 209.70L574.98 207.00ZM576.73 205.80L578.48 208.50L576.73 211.20L574.98 208.50ZM576.73 213.30L578.48 216.00L576.73 218.70L574.98 216.00ZM576.73 214.83L578.48 217.53L576.73 220.23L574.98 217.53ZM576.73 216.19L578.48 218.89L576.73 221.59L574.98 218.89ZM576.73 216.70L578.48 219.40L576.73 222.10L574.98 219.40ZM576.73 223.60L578.48 226.30L576.73 229.00L574.98 226.30ZM576.73 225.84L578.48 228.54L576.73 231.24L574.98 228.54ZM576.73 227.76L578.48 230.46L576.73 233.16L574.98 230.46ZM576.73 229.52L578.48 232.22L576.73 234.92L574.98 232.22ZM576.73 231.12L578.48 233.82L576.73 236.52L574.98 233.82ZM576.73 232.40L578.48 235.10L576.73 237.80L574.98 235.10ZM576.73 234.32L578.48 237.02L576.73 239.72L574.98 237.02ZM576.73 235.76L578.48 238.46L576.73 241.16L574.98 238.46ZM576.73 237.36L578.48 240.06L576.73 242.76L574.98 240.06ZM576.73 238.64L578.48 241.34L576.73 244.04L574.98 241.34ZM576.73 240.88L578.48 243.58L576.73 246.28L574.98 243.58ZM576.73 242.16L578.48 244.86L576.73 247.56L574.98 244.86ZM576.73 243.60L578.48 246.30L576.73 249.00L574.98 246.30ZM576.73 244.72L578.48 247.42L576.73 250.12L574.98 247.42ZM576.73 246.48L578.48 249.18L576.73 251.88L574.98 249.18ZM576.73 248.24L578.48 250.94L576.73 253.64L574.98 250.94ZM576.73 249.52L578.48 252.22L576.73 254.92L574.98 252.22ZM576.73 251.76L578.48 254.46L576.73 257.16L574.98 254.46ZM576.73 252.30L578.48 255.00L576.73 257.70L574.98 255.00ZM576.73 252.30L578.48 255.00L576.73 257.70L574.98 255.00ZM576.73 253.30L578.48 256.00L576.73 258.70L574.98 256.00ZM576.73 254.10L578.48 256.80L576.73 259.50L574.98 256.80ZM576.73 255.10L578.48 257.80L576.73 260.50L574.98 257.80ZM576.73 256.00L578.48 258.70L576.73 261.40L574.98 258.70ZM576.73 256.80L578.48 259.50L576.73 262.20L574.98 259.50ZM576.73 257.60L578.48 260.30L576.73 263.00L574.98 260.30ZM576.73 258.60L578.48 261.30L576.73 264.00L574.98 261.30ZM576.73 259.90L578.48 262.60L576.73 265.30L574.98 262.60ZM576.73 260.80L578.48 263.50L576.73 266.20L574.98 263.50ZM576.73 262.40L578.48 265.10L576.73 267.80L574.98 265.10ZM576.73 264.50L578.48 267.20L576.73 269.90L574.98 267.20ZM576.73 265.30L578.48 268.00L576.73 270.70L574.98 268.00ZM576.73 266.10L578.48 268.80L576.73 271.50L574.98 268.80ZM576.73 267.10L578.48 269.80L576.73 272.50L574.98 269.80ZM576.73 269.20L578.48 271.90L576.73 274.60L574.98 271.90ZM576.73 270.30L578.48 273.00L576.73 275.70L574.98 273.00ZM576.73 271.10L578.48 273.80L576.73 276.50L574.98 273.80ZM576.73 273.20L578.48 275.90L576.73 278.60L574.98 275.90ZM576.73 274.10L578.48 276.80L576.73 279.50L574.98 276.80ZM576.73 275.00L578.48 277.70L576.73 280.40L574.98 277.70ZM576.73 275.90L578.48 278.60L576.73 281.30L574.98 278.60ZM649.08 -0.30L650.83 2.40L649.08 5.10L647.33 2.40ZM649.08 0.60L650.83 3.30L649.08 6.00L647.33 3.30ZM649.08 1.50L650.83 4.20L649.08 6.90L647.33 4.20ZM649.08 2.40L650.83 5.10L649.08 7.80L647.33 5.10ZM649.08 3.30L650.83 6.00L649.08 8.70L647.33 6.00ZM649.08 4.20L650.83 6.90L649.08 9.60L647.33 6.90ZM649.08 5.10L650.83 7.80L649.08 10.50L647.33 7.80ZM649.08 6.00L650.83 8.70L649.08 11.40L647.33 8.70ZM649.08 6.90L650.83 9.60L649.08 12.30L647.33 9.60ZM649.08 7.80L650.83 10.50L649.08 13.20L647.33 10.50ZM649.08 8.70L650.83 11.40L649.08 14.10L647.33 11.40ZM649.08 9.60L650.83 12.30L649.08 15.00L647.33 12.30ZM649.08 10.50L650.83 13.20L649.08 15.90L647.33 13.20ZM649.08 11.40L650.83 14.10L649.08 16.80L647.33 14.10ZM649.08 12.30L650.83 15.00L649.08 17.70L647.33 15.00ZM649.08 13.20L650.83 15.90L649.08 18.60L647.33 15.90ZM649.08 14.10L650.83 16.80L649.08 19.50L647.33 16.80ZM649.08 15.00L650.83 17.70L649.08 20.40L647.33 17.70ZM649.08 15.90L650.83 18.60L649.08 21.30L647.33 18.60ZM649.08 16.80L650.83 19.50L649.08 22.20L647.33 19.50ZM649.08 17.70L650.83 20.40L649.08 23.10L647.33 20.40ZM649.08 18.60L650.83 21.30L649.08 24.00L647.33 21.30ZM649.08 19.50L650.83 22.20L649.08 24.90L647.33 22.20ZM649.08 20.40L650.83 23.10L649.08 25.80L647.33 23.10ZM649.08 21.30L650.83 24.00L649.08 26.70L647.33 24.00ZM649.08 22.20L650.83 24.90L649.08 27.60L647.33 24.90ZM649.08 23.10L650.83 25.80L649.08 28.50L647.33 25.80ZM649.08 26.60L650.83 29.30L649.08 32.00L647.33 29.30ZM649.08 27.50L650.83 30.20L649.08 32.90L647.33 30.20ZM649.08 28.40L650.83 31.10L649.08 33.80L647.33 31.10ZM649.08 29.30L650.83 32.00L649.08 34.70L647.33 32.00ZM649.08 30.20L650.83 32.90L649.08 35.60L647.33 32.90ZM649.08 31.10L650.83 33.80L649.08 36.50L647.33 33.80ZM649.08 32.00L650.83 34.70L649.08 37.40L647.33 34.70ZM649.08 32.90L650.83 35.60L649.08 38.30L647.33 35.60ZM649.08 33.80L650.83 36.50L649.08 39.20L647.33 36.50ZM649.08 34.70L650.83 37.40L649.08 40.10L647.33 37.40ZM649.08 35.60L650.83 38.30L649.08 41.00L647.33 38.30ZM649.08 38.50L650.83 41.20L649.08 43.90L647.33 41.20ZM649.08 41.50L650.83 44.20L649.08 46.90L647.33 44.20ZM649.08 42.40L650.83 45.10L649.08 47.80L647.33 45.10ZM649.08 43.30L650.83 46.00L649.08 48.70L647.33 46.00ZM649.08 44.20L650.83 46.90L649.08 49.60L647.33 46.90ZM649.08 45.10L650.83 47.80L649.08 50.50L647.33 47.80ZM649.08 46.00L650.83 48.70L649.08 51.40L647.33 48.70ZM649.08 46.90L650.83 49.60L649.08 52.30L647.33 49.60ZM649.08 47.80L650.83 50.50L649.08 53.20L647.33 50.50ZM649.08 48.70L650.83 51.40L649.08 54.10L647.33 51.40ZM649.08 51.90L650.83 54.60L649.08 57.30L647.33 54.60ZM649.08 52.80L650.83 55.50L649.08 58.20L647.33 55.50ZM649.08 53.70L650.83 56.40L649.08 59.10L647.33 56.40ZM649.08 54.60L650.83 57.30L649.08 60.00L647.33 57.30ZM649.08 55.50L650.83 58.20L649.08 60.90L647.33 58.20ZM649.08 56.40L650.83 59.10L649.08 61.80L647.33 59.10ZM649.08 57.30L650.83 60.00L649.08 62.70L647.33 60.00ZM649.08 58.20L650.83 60.90L649.08 63.60L647.33 60.90ZM649.08 59.10L650.83 61.80L649.08 64.50L647.33 61.80ZM649.08 60.00L650.83 62.70L649.08 65.40L647.33 62.70ZM649.08 60.90L650.83 63.60L649.08 66.30L647.33 63.60ZM649.08 61.80L650.83 64.50L649.08 67.20L647.33 64.50ZM649.08 62.70L650.83 65.40L649.08 68.10L647.33 65.40ZM649.08 63.60L650.83 66.30L649.08 69.00L647.33 66.30ZM649.08 66.50L650.83 69.20L649.08 71.90L647.33 69.20ZM649.08 69.10L650.83 71.80L649.08 74.50L647.33 71.80ZM649.08 70.00L650.83 72.70L649.08 75.40L647.33 72.70ZM649.08 70.90L650.83 73.60L649.08 76.30L647.33 73.60ZM649.08 71.80L650.83 74.50L649.08 77.20L647.33 74.50ZM649.08 72.70L650.83 75.40L649.08 78.10L647.33 75.40ZM649.08 73.60L650.83 76.30L649.08 79.00L647.33 76.30ZM649.08 74.50L650.83 77.20L649.08 79.90L647.33 77.20ZM649.08 75.40L650.83 78.10L649.08 80.80L647.33 78.10ZM649.08 76.30L650.83 79.00L649.08 81.70L647.33 79.00ZM649.08 77.20L650.83 79.90L649.08 82.60L647.33 79.90ZM649.08 78.10L650.83 80.80L649.08 83.50L647.33 80.80ZM649.08 79.00L650.83 81.70L649.08 84.40L647.33 81.70ZM649.08 79.90L650.83 82.60L649.08 85.30L647.33 82.60ZM649.08 80.80L650.83 83.50L649.08 86.20L647.33 83.50ZM649.08 81.70L650.83 84.40L649.08 87.10L647.33 84.40ZM649.08 82.60L650.83 85.30L649.08 88.00L647.33 85.30ZM649.08 83.50L650.83 86.20L649.08 88.90L647.33 86.20ZM649.08 84.40L650.83 87.10L649.08 89.80L647.33 87.10ZM649.08 85.30L650.83 88.00L649.08 90.70L647.33 88.00ZM649.08 86.20L650.83 88.90L649.08 91.60L647.33 88.90ZM649.08 87.10L650.83 89.80L649.08 92.50L647.33 89.80ZM649.08 88.00L650.83 90.70L649.08 93.40L647.33 90.70ZM649.08 88.90L650.83 91.60L649.08 94.30L647.33 91.60ZM649.08 89.80L650.83 92.50L649.08 95.20L647.33 92.50ZM649.08 90.70L650.83 93.40L649.08 96.10L647.33 93.40ZM649.08 91.60L650.83 94.30L649.08 97.00L647.33 94.30ZM649.08 92.50L650.83 95.20L649.08 97.90L647.33 95.20ZM649.08 93.40L650.83 96.10L649.08 98.80L647.33 96.10ZM649.08 94.30L650.83 97.00L649.08 99.70L647.33 97.00ZM649.08 95.20L650.83 97.90L649.08 100.60L647.33 97.90ZM649.08 96.10L650.83 98.80L649.08 101.50L647.33 98.80ZM649.08 97.00L650.83 99.70L649.08 102.40L647.33 99.70ZM649.08 97.90L650.83 100.60L649.08 103.30L647.33 100.60ZM649.08 98.80L650.83 101.50L649.08 104.20L647.33 101.50ZM649.08 99.70L650.83 102.40L649.08 105.10L647.33 102.40ZM649.08 100.60L650.83 103.30L649.08 106.00L647.33 103.30ZM649.08 101.50L650.83 104.20L649.08 106.90L647.33 104.20ZM649.08 102.40L650.83 105.10L649.08 107.80L647.33 105.10ZM649.08 103.30L650.83 106.00L649.08 108.70L647.33 106.00ZM649.08 104.20L650.83 106.90L649.08 109.60L647.33 106.90ZM649.08 105.10L650.83 107.80L649.08 110.50L647.33 107.80ZM649.08 106.00L650.83 108.70L649.08 111.40L647.33 108.70ZM649.08 106.90L650.83 109.60L649.08 112.30L647.33 109.60ZM649.08 107.80L650.83 110.50L649.08 113.20L647.33 110.50ZM649.08 108.70L650.83 111.40L649.08 114.10L647.33 111.40ZM649.08 109.60L650.83 112.30L649.08 115.00L647.33 112.30ZM649.08 110.50L650.83 113.20L649.08 115.90L647.33 113.20ZM649.08 111.40L650.83 114.10L649.08 116.80L647.33 114.10ZM649.08 112.30L650.83 115.00L649.08 117.70L647.33 115.00ZM649.08 113.20L650.83 115.90L649.08 118.60L647.33 115.90ZM649.08 114.10L650.83 116.80L649.08 119.50L647.33 116.80ZM649.08 115.00L650.83 117.70L649.08 120.40L647.33 117.70ZM649.08 115.90L650.83 118.60L649.08 121.30L647.33 118.60ZM649.08 116.80L650.83 119.50L649.08 122.20L647.33 119.50ZM649.08 117.70L650.83 120.40L649.08 123.10L647.33 120.40ZM649.08 118.60L650.83 121.30L649.08 124.00L647.33 121.30ZM649.08 119.50L650.83 122.20L649.08 124.90L647.33 122.20ZM649.08 120.40L650.83 123.10L649.08 125.80L647.33 123.10ZM649.08 121.30L650.83 124.00L649.08 126.70L647.33 124.00ZM649.08 122.20L650.83 124.90L649.08 127.60L647.33 124.90ZM649.08 123.10L650.83 125.80L649.08 128.50L647.33 125.80ZM649.08 124.00L650.83 126.70L649.08 129.40L647.33 126.70ZM649.08 124.90L650.83 127.60L649.08 130.30L647.33 127.60ZM649.08 125.80L650.83 128.50L649.08 131.20L647.33 128.50ZM649.08 126.70L650.83 129.40L649.08 132.10L647.33 129.40ZM649.08 127.60L650.83 130.30L649.08 133.00L647.33 130.30ZM649.08 128.50L650.83 131.20L649.08 133.90L647.33 131.20ZM649.08 129.40L650.83 132.10L649.08 134.80L647.33 132.10ZM649.08 130.30L650.83 133.00L649.08 135.70L647.33 133.00ZM649.08 131.20L650.83 133.90L649.08 136.60L647.33 133.90ZM649.08 132.10L650.83 134.80L649.08 137.50L647.33 134.80ZM649.08 133.00L650.83 135.70L649.08 138.40L647.33 135.70ZM649.08 133.90L650.83 136.60L649.08 139.30L647.33 136.60ZM649.08 134.80L650.83 137.50L649.08 140.20L647.33 137.50ZM649.08 135.70L650.83 138.40L649.08 141.10L647.33 138.40ZM649.08 136.60L650.83 139.30L649.08 142.00L647.33 139.30ZM649.08 137.50L650.83 140.20L649.08 142.90L647.33 140.20ZM649.08 138.40L650.83 141.10L649.08 143.80L647.33 141.10ZM649.08 139.30L650.83 142.00L649.08 144.70L647.33 142.00ZM649.08 140.20L650.83 142.90L649.08 145.60L647.33 142.90ZM649.08 141.10L650.83 143.80L649.08 146.50L647.33 143.80ZM649.08 142.00L650.83 144.70L649.08 147.40L647.33 144.70ZM649.08 142.90L650.83 145.60L649.08 148.30L647.33 145.60ZM649.08 143.80L650.83 146.50L649.08 149.20L647.33 146.50ZM649.08 144.70L650.83 147.40L649.08 150.10L647.33 147.40ZM649.08 145.60L650.83 148.30L649.08 151.00L647.33 148.30ZM649.08 146.50L650.83 149.20L649.08 151.90L647.33 149.20ZM649.08 147.40L650.83 150.10L649.08 152.80L647.33 150.10ZM649.08 148.30L650.83 151.00L649.08 153.70L647.33 151.00ZM649.08 149.20L650.83 151.90L649.08 154.60L647.33 151.90ZM649.08 150.10L650.83 152.80L649.08 155.50L647.33 152.80ZM649.08 151.00L650.83 153.70L649.08 156.40L647.33 153.70ZM649.08 151.90L650.83 154.60L649.08 157.30L647.33 154.60ZM649.08 152.80L650.83 155.50L649.08 158.20L647.33 155.50ZM649.08 153.70L650.83 156.40L649.08 159.10L647.33 156.40ZM649.08 154.60L650.83 157.30L649.08 160.00L647.33 157.30ZM649.08 155.50L650.83 158.20L649.08 160.90L647.33 158.20ZM649.08 156.40L650.83 159.10L649.08 161.80L647.33 159.10ZM649.08 157.30L650.83 160.00L649.08 162.70L647.33 160.00ZM649.08 158.20L650.83 160.90L649.08 163.60L647.33 160.90ZM649.08 159.10L650.83 161.80L649.08 164.50L647.33 161.80ZM649.08 160.00L650.83 162.70L649.08 165.40L647.33 162.70ZM649.08 160.90L650.83 163.60L649.08 166.30L647.33 163.60ZM649.08 161.80L650.83 164.50L649.08 167.20L647.33 164.50ZM649.08 162.70L650.83 165.40L649.08 168.10L647.33 165.40ZM649.08 163.60L650.83 166.30L649.08 169.00L647.33 166.30ZM649.08 164.50L650.83 167.20L649.08 169.90L647.33 167.20ZM649.08 165.40L650.83 168.10L649.08 170.80L647.33 168.10Z" fill="#4d4d4d"/>
<path d="M71.47 297.56V281.50M71.47 308.91V316.50M57.04 281.50H85.91" stroke="#545454" stroke-width="0.9" fill="none"/>
<path d="M57.04 316.50H85.91" stroke="#767676" stroke-width="1.0" fill="none"/>
<rect x="42.61" y="297.56" width="57.72" height="11.35" fill="#6a80d1" stroke="#545454" stroke-width="0.9"/>
<line x1="42.61" y1="305.13" x2="100.33" y2="305.13" stroke="#545454" stroke-width="0.9"/>
<path d="M143.62 283.68V248.40M143.62 307.65V316.50M129.19 248.40H158.06" stroke="#545454" stroke-width="0.9" fill="none"/>
<path d="M129.19 316.50H158.06" stroke="#767676" stroke-width="1.0" fill="none"/>
<rect x="114.77" y="283.68" width="57.72" height="23.97" fill="#8ba5e9" stroke="#545454" stroke-width="0.9"/>
<line x1="114.77" y1="298.82" x2="172.49" y2="298.82" stroke="#545454" stroke-width="0.9"/>
<path d="M215.78 287.47V253.50M215.78 310.17V316.50M201.34 253.50H230.21" stroke="#545454" stroke-width="0.9" fill="none"/>
<path d="M201.34 316.50H230.21" stroke="#767676" stroke-width="1.0" fill="none"/>
<rect x="186.91" y="287.47" width="57.72" height="22.71" fill="#aac2f3" stroke="#545454" stroke-width="0.9"/>
<line x1="186.91" y1="303.87" x2="244.64" y2="303.87" stroke="#545454" stroke-width="0.9"/>
<path d="M287.93 291.25V260.95M287.93 311.44V316.50M273.50 260.95H302.36" stroke="#545454" stroke-width="0.9" fill="none"/>
<path d="M273.50 316.50H302.36" stroke="#767676" stroke-width="1.0" fill="none"/>
<rect x="259.06" y="291.25" width="57.72" height="20.18" fill="#c7d5ee" stroke="#545454" stroke-width="0.9"/>
<line x1="259.06" y1="305.13" x2="316.79" y2="305.13" stroke="#545454" stroke-width="0.9"/>
<path d="M360.07 271.07V213.95M360.07 308.91V316.50M345.64 213.95H374.50" stroke="#545454" stroke-width="0.9" fill="none"/>
<path d="M345.64 316.50H374.50" stroke="#767676" stroke-width="1.0" fill="none"/>
<rect x="331.21" y="271.07" width="57.72" height="37.84" fill="#dddcdc" stroke="#545454" stroke-width="0.9"/>
<line x1="331.21" y1="297.56" x2="388.94" y2="297.56" stroke="#545454" stroke-width="0.9"/>
<path d="M432.23 295.04V267.50M432.23 313.96V316.50M417.80 267.50H446.66" stroke="#545454" stroke-width="0.9" fill="none"/>
<path d="M417.80 316.50H446.66" stroke="#767676" stroke-width="1.0" fill="none"/>
<rect x="403.37" y="295.04" width="57.12" height="18.92" fill="#eacdbe" stroke="#545454" stroke-width="0.9"/>
<line x1="403.37" y1="308.91" x2="460.49" y2="308.91" stroke="#545454" stroke-width="0.9"/>
<path d="M504.38 282.74V238.50M504.38 312.70V316.50M489.94 238.50H518.80" stroke="#545454" stroke-width="0.9" fill="none"/>
<path d="M489.94 316.50H518.80" stroke="#767676" stroke-width="1.0" fill="none"/>
<rect x="475.51" y="282.74" width="57.72" height="29.96" fill="#eab29b" stroke="#545454" stroke-width="0.9"/>
<line x1="475.51" y1="307.65" x2="533.24" y2="307.65" stroke="#545454" stroke-width="0.9"/>
<path d="M576.52 298.82V280.25M576.52 311.44V316.50M562.10 280.25H590.95" stroke="#545454" stroke-width="0.9" fill="none"/>
<path d="M562.10 316.50H590.95" stroke="#767676" stroke-width="1.0" fill="none"/>
<rect x="547.66" y="298.82" width="57.72" height="12.62" fill="#dd8e78" stroke="#545454" stroke-width="0.9"/>
<line x1="547.66" y1="308.91" x2="605.38" y2="308.91" stroke="#545454" stroke-width="0.9"/>
<path d="M648.68 253.41V168.50M648.68 310.17V316.50M634.25 168.50H663.11" stroke="#545454" stroke-width="0.9" fill="none"/>
<path d="M634.25 316.50H663.11" stroke="#767676" stroke-width="1.0" fill="none"/>
<rect x="619.82" y="253.41" width="57.72" height="56.77" fill="#c46156" stroke="#545454" stroke-width="0.9"/>
<line x1="619.82" y1="298.82" x2="677.54" y2="298.82" stroke="#545454" stroke-width="0.9"/>
</g>
<circle cx="71.47" cy="302.20" r="2.1" fill="#ff0000"/>
<circle cx="143.62" cy="290.70" r="2.1" fill="#ff0000"/>
<circle cx="215.78" cy="292.90" r="2.1" fill="#ff0000"/>
<circle cx="287.93" cy="293.60" r="2.1" fill="#ff0000"/>
<circle cx="360.07" cy="279.60" r="2.1" fill="#ff0000"/>
<circle cx="432.23" cy="282.60" r="2.1" fill="#ff0000"/>
<circle cx="504.38" cy="218.60" r="2.1" fill="#ff0000"/>
<circle cx="576.52" cy="300.00" r="2.1" fill="#ff0000"/>
<circle cx="648.68" cy="252.60" r="2.1" fill="#ff0000"/>
<text x="71.54" y="306.01" font-size="6.55" textLength="32.48" lengthAdjust="spacingAndGlyphs" fill="#008000">Q1: 1401.0</text>
<text x="71.54" y="302.23" font-size="6.55" textLength="32.48" lengthAdjust="spacingAndGlyphs" fill="#0000ff">Q2: 2001.0</text>
<text x="71.54" y="294.66" font-size="6.55" textLength="32.48" lengthAdjust="spacingAndGlyphs" fill="#800080">Q3: 3201.0</text>
<text x="143.69" y="304.75" font-size="6.55" textLength="32.48" lengthAdjust="spacingAndGlyphs" fill="#008000">Q1: 1601.0</text>
<text x="143.69" y="295.92" font-size="6.55" textLength="32.48" lengthAdjust="spacingAndGlyphs" fill="#0000ff">Q2: 3001.0</text>
<text x="143.69" y="280.78" font-size="6.55" textLength="32.48" lengthAdjust="spacingAndGlyphs" fill="#800080">Q3: 5401.0</text>
<text x="215.84" y="307.27" font-size="6.55" textLength="32.48" lengthAdjust="spacingAndGlyphs" fill="#008000">Q1: 1201.0</text>
<text x="215.84" y="300.97" font-size="6.55" textLength="32.48" lengthAdjust="spacingAndGlyphs" fill="#0000ff">Q2: 2201.0</text>
<text x="215.84" y="284.57" font-size="6.55" textLength="32.48" lengthAdjust="spacingAndGlyphs" fill="#800080">Q3: 4801.0</text>
<text x="287.99" y="308.54" font-size="6.55" textLength="32.48" lengthAdjust="spacingAndGlyphs" fill="#008000">Q1: 1001.0</text>
<text x="287.99" y="302.23" font-size="6.55" textLength="32.48" lengthAdjust="spacingAndGlyphs" fill="#0000ff">Q2: 2001.0</text>
<text x="287.99" y="288.35" font-size="6.55" textLength="32.48" lengthAdjust="spacingAndGlyphs" fill="#800080">Q3: 4201.0</text>
<text x="360.14" y="306.01" font-size="6.55" textLength="32.48" lengthAdjust="spacingAndGlyphs" fill="#008000">Q1: 1401.0</text>
<text x="360.14" y="294.66" font-size="6.55" textLength="32.48" lengthAdjust="spacingAndGlyphs" fill="#0000ff">Q2: 3201.0</text>
<text x="360.14" y="268.17" font-size="6.55" textLength="32.48" lengthAdjust="spacingAndGlyphs" fill="#800080">Q3: 7401.0</text>
<text x="432.29" y="311.06" font-size="6.55" textLength="28.75" lengthAdjust="spacingAndGlyphs" fill="#008000">Q1: 601.0</text>
<text x="432.29" y="306.01" font-size="6.55" textLength="32.48" lengthAdjust="spacingAndGlyphs" fill="#0000ff">Q2: 1401.0</text>
<text x="432.29" y="292.14" font-size="6.55" textLength="32.48" lengthAdjust="spacingAndGlyphs" fill="#800080">Q3: 3601.0</text>
<text x="504.44" y="309.80" font-size="6.55" textLength="28.75" lengthAdjust="spacingAndGlyphs" fill="#008000">Q1: 801.0</text>
<text x="504.44" y="304.75" font-size="6.55" textLength="32.48" lengthAdjust="spacingAndGlyphs" fill="#0000ff">Q2: 1601.0</text>
<text x="504.44" y="279.84" font-size="6.55" textLength="32.48" lengthAdjust="spacingAndGlyphs" fill="#800080">Q3: 5551.0</text>
<text x="576.59" y="308.54" font-size="6.55" textLength="32.48" lengthAdjust="spacingAndGlyphs" fill="#008000">Q1: 1001.0</text>
<text x="576.59" y="306.01" font-size="6.55" textLength="32.48" lengthAdjust="spacingAndGlyphs" fill="#0000ff">Q2: 1401.0</text>
<text x="576.59" y="295.92" font-size="6.55" textLength="32.48" lengthAdjust="spacingAndGlyphs" fill="#800080">Q3: 3001.0</text>
<text x="648.74" y="307.27" font-size="6.55" textLength="32.48" lengthAdjust="spacingAndGlyphs" fill="#008000">Q1: 1201.0</text>
<text x="648.74" y="295.92" font-size="6.55" textLength="32.48" lengthAdjust="spacingAndGlyphs" fill="#0000ff">Q2: 3001.0</text>
<text x="648.74" y="250.51" font-size="6.55" textLength="36.20" lengthAdjust="spacingAndGlyphs" fill="#800080">Q3: 10201.0</text>
<line x1="35.3" y1="2.4" x2="685" y2="2.4" stroke="#888" stroke-width="1"/>
<line x1="35.3" y1="318.2" x2="685" y2="318.2" stroke="#777" stroke-width="1"/>
<line x1="35.8" y1="2.4" x2="35.8" y2="318.7" stroke="#888" stroke-width="1"/>
<line x1="684.9" y1="2.4" x2="684.9" y2="318.7" stroke="#999" stroke-width="1"/>
<line x1="34.00" y1="317.75" x2="35.80" y2="317.75" stroke="#666" stroke-width="0.8"/>
<text x="27.84" y="320.05" font-size="6.51" textLength="3.32" lengthAdjust="spacingAndGlyphs" fill="#262626">0</text>
<line x1="34.00" y1="254.68" x2="35.80" y2="254.68" stroke="#666" stroke-width="0.8"/>
<text x="13.43" y="256.98" font-size="6.51" textLength="17.74" lengthAdjust="spacingAndGlyphs" fill="#262626">10000</text>
<line x1="34.00" y1="191.60" x2="35.80" y2="191.60" stroke="#666" stroke-width="0.8"/>
<text x="13.39" y="193.90" font-size="6.51" textLength="17.79" lengthAdjust="spacingAndGlyphs" fill="#262626">20000</text>
<line x1="34.00" y1="128.53" x2="35.80" y2="128.53" stroke="#666" stroke-width="0.8"/>
<text x="13.48" y="130.83" font-size="6.51" textLength="17.69" lengthAdjust="spacingAndGlyphs" fill="#262626">30000</text>
<line x1="34.00" y1="65.45" x2="35.80" y2="65.45" stroke="#666" stroke-width="0.8"/>
<text x="13.42" y="67.75" font-size="6.51" textLength="17.75" lengthAdjust="spacingAndGlyphs" fill="#262626">40000</text>
<line x1="34.00" y1="2.38" x2="35.80" y2="2.38" stroke="#666" stroke-width="0.8"/>
<text x="13.48" y="4.67" font-size="6.51" textLength="17.70" lengthAdjust="spacingAndGlyphs" fill="#262626">50000</text>
<line x1="71.47" y1="317.75" x2="71.47" y2="320.35" stroke="#666" stroke-width="0.8"/>
<text x="69.86" y="326.90" font-size="6.51" textLength="3.17" lengthAdjust="spacingAndGlyphs" fill="#262626">1</text>
<line x1="143.62" y1="317.75" x2="143.62" y2="320.35" stroke="#666" stroke-width="0.8"/>
<text x="141.95" y="326.90" font-size="6.51" textLength="3.20" lengthAdjust="spacingAndGlyphs" fill="#262626">2</text>
<line x1="215.78" y1="317.75" x2="215.78" y2="320.35" stroke="#666" stroke-width="0.8"/>
<text x="214.19" y="326.90" font-size="6.51" textLength="3.19" lengthAdjust="spacingAndGlyphs" fill="#262626">3</text>
<line x1="287.93" y1="317.75" x2="287.93" y2="320.35" stroke="#666" stroke-width="0.8"/>
<text x="286.26" y="326.90" font-size="6.51" textLength="3.32" lengthAdjust="spacingAndGlyphs" fill="#262626">4</text>
<line x1="360.07" y1="317.75" x2="360.07" y2="320.35" stroke="#666" stroke-width="0.8"/>
<text x="358.49" y="326.90" font-size="6.51" textLength="3.13" lengthAdjust="spacingAndGlyphs" fill="#262626">5</text>
<line x1="432.23" y1="317.75" x2="432.23" y2="320.35" stroke="#666" stroke-width="0.8"/>
<text x="430.51" y="326.90" font-size="6.51" textLength="3.43" lengthAdjust="spacingAndGlyphs" fill="#262626">6</text>
<line x1="504.38" y1="317.75" x2="504.38" y2="320.35" stroke="#666" stroke-width="0.8"/>
<text x="502.74" y="326.90" font-size="6.51" textLength="3.25" lengthAdjust="spacingAndGlyphs" fill="#262626">7</text>
<line x1="576.52" y1="317.75" x2="576.52" y2="320.35" stroke="#666" stroke-width="0.8"/>
<text x="574.85" y="326.90" font-size="6.51" textLength="3.35" lengthAdjust="spacingAndGlyphs" fill="#262626">8</text>
<line x1="648.68" y1="317.75" x2="648.68" y2="320.35" stroke="#666" stroke-width="0.8"/>
<text x="646.94" y="326.90" font-size="6.51" textLength="3.43" lengthAdjust="spacingAndGlyphs" fill="#262626">9</text>
<text x="309.05" y="338.90" font-size="12.42" textLength="101.99" lengthAdjust="spacingAndGlyphs" fill="#262626">Chromatin States</text>
<text transform="translate(9.0 161.9) rotate(-90)" x="-19.93" y="0.00" font-size="12.30" textLength="39.80" lengthAdjust="spacingAndGlyphs" fill="#262626">Length</text>
</svg></body></html>
